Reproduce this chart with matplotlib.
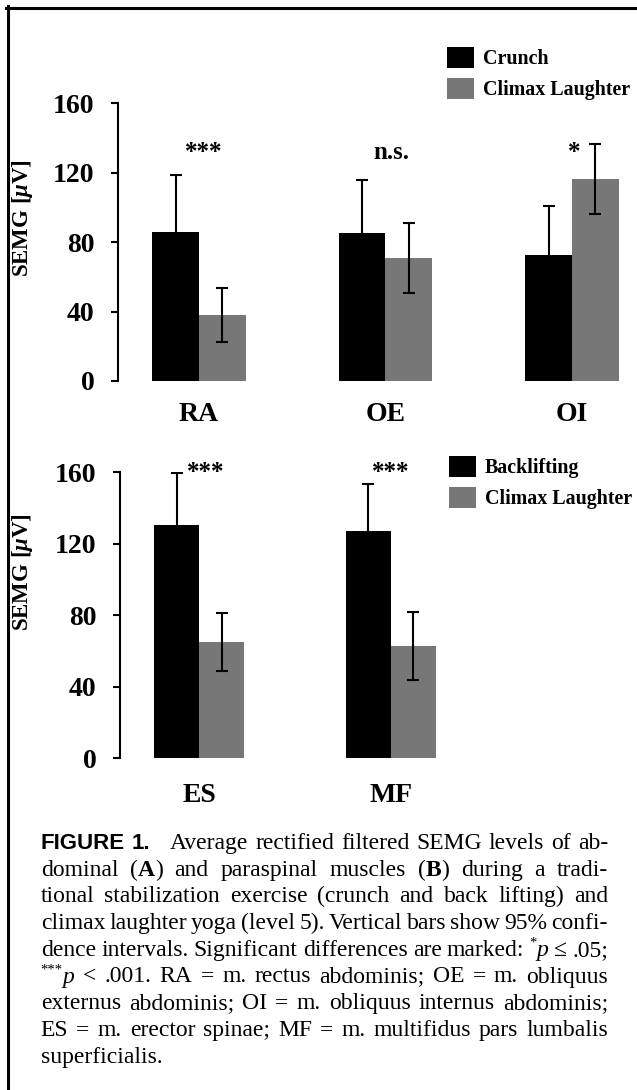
import re

import numpy as np
import matplotlib
matplotlib.use('Agg')
import matplotlib.pyplot as plt
import matplotlib.transforms as mtransforms
from matplotlib.lines import Line2D

plt.rcParams['font.family'] = ['Liberation Serif', 'DejaVu Serif']
plt.rcParams['mathtext.fontset'] = 'custom'
plt.rcParams['mathtext.rm'] = 'Liberation Serif:bold'
plt.rcParams['mathtext.it'] = 'Liberation Serif:italic:bold'

# panel A: abdominal muscles
muscles_a = ['RA', 'OE', 'OI']
crunch = [86.0, 85.5, 72.5]
crunch_ci = [32.7, 30.1, 28.6]
laugh_a = [38.2, 71.0, 116.4]
laugh_a_ci = [15.5, 20.2, 20.2]
sig_a = ['***', 'n.s.', '*']

# panel B: paraspinal muscles
muscles_b = ['ES', 'MF']
backlift = [130.4, 127.0]
backlift_ci = [29.3, 26.7]
laugh_b = [65.2, 62.8]
laugh_b_ci = [16.3, 18.9]
sig_b = ['***', '***']

yticks = [0, 40, 80, 120, 160]

caption = [
    "{f:FIGURE} {f:1.} _ Average rectified filtered SEMG levels of ab-",
    "dominal ({b:A}) and paraspinal muscles ({b:B}) during a tradi-",
    "tional stabilization exercise (crunch and back lifting) and",
    "climax laughter yoga (level 5). Vertical bars show 95% confi-",
    "dence intervals. Significant differences are marked: {s:*}{i:p} \u2264 .05;",
    "{s:***}{i:p} < .001. RA = m. rectus abdominis; OE = m. obliquus",
    "externus abdominis; OI = m. obliquus internus abdominis;",
    "ES = m. erector spinae; MF = m. multifidus pars lumbalis",
    "superficialis.",
]

W, H = 637, 1090
BLACK = '#000000'
GREY = '#777777'

fig = plt.figure(figsize=(W / 100, H / 100), dpi=100)

err_kw = dict(ecolor='black', elinewidth=1.5, capsize=4.3, capthick=1.5)


def draw_panel(ax, names, s1, e1, s2, e2, sig, sig_dx, sig_y, width, labels, leg_xy, xlim, xpad):
    x = np.arange(len(names))
    b1 = ax.bar(x - width / 2, s1, width, color=BLACK, yerr=e1, error_kw=err_kw, label=labels[0])
    b2 = ax.bar(x + width / 2, s2, width, color=GREY, yerr=e2, error_kw=err_kw, label=labels[1])
    for i, s in enumerate(sig):
        ax.text(x[i] + sig_dx[i], sig_y, s, ha='center', va='baseline',
                fontsize=18, fontweight='bold')
    ax.set_xlim(*xlim)
    ax.set_ylim(0, 160)
    ax.set_yticks(yticks)
    ax.set_xticks(x)
    ax.set_xticklabels(names, fontsize=20, fontweight='bold')
    for lbl in ax.get_yticklabels():
        lbl.set_fontsize(20)
        lbl.set_fontweight('bold')
    for side in ['top', 'right', 'bottom']:
        ax.spines[side].set_visible(False)
    ax.spines['left'].set_linewidth(1.5)
    ax.tick_params(axis='y', direction='out', length=5, width=1.5, pad=12)
    ax.tick_params(axis='x', length=0, pad=xpad)
    ax.legend(handles=[b1, b2], loc='upper left', bbox_to_anchor=leg_xy,
              bbox_transform=fig.transFigure, frameon=False,
              prop=dict(weight='bold', size=14.4), handlelength=1.35, handleheight=1.25,
              handletextpad=0.45, labelspacing=0.42, borderpad=0, borderaxespad=0)


ax_a = fig.add_axes([118 / W, 1 - 381 / H, 512 / W, 277.7 / H])
draw_panel(ax_a, muscles_a, crunch, crunch_ci, laugh_a, laugh_a_ci, sig_a,
           [0.024, 0.03, 0.013], 128, 0.25, ['Crunch', 'Climax Laughter'],
           (447 / W, 1 - 47 / H), (-0.434, 2.311), 15)
ax_a.set_ylabel(r'SEMG [$\mu$V]', fontsize=16.5, fontweight='bold')
ax_a.yaxis.set_label_coords(-0.162, 0.587)

ax_b = fig.add_axes([120 / W, 1 - 758.3 / H, 510 / W, 286 / H])
draw_panel(ax_b, muscles_b, backlift, backlift_ci, laugh_b, laugh_b_ci, sig_b,
           [0.037, 0.003], 156, 0.235, ['Backlifting', 'Climax Laughter'],
           (449 / W, 1 - 456 / H), (-0.4125, 2.25), 18)
ax_b.set_ylabel(r'SEMG [$\mu$V]', fontsize=16.5, fontweight='bold')
ax_b.yaxis.set_label_coords(-0.166, 0.651)

# frame of the figure box (top and left edges only visible)
fig.add_artist(Line2D([6 / W, 1], [1 - 7.5 / H] * 2, transform=fig.transFigure, color='black', lw=2.2))
fig.add_artist(Line2D([7.5 / W] * 2, [0, 1 - 6 / H], transform=fig.transFigure, color='black', lw=2.2))

# justified caption
renderer = fig.canvas.get_renderer()
ident = mtransforms.IdentityTransform()
X0, X1 = 40.7, 608.0


def styles(sz):
    return {
        'r': dict(family='Liberation Serif', size=sz),
        'b': dict(family='Liberation Serif', size=sz, weight='bold'),
        'i': dict(family='Liberation Serif', size=sz, style='italic'),
        's': dict(family='Liberation Serif', size=sz * 0.62),
        'f': dict(family='Liberation Sans', size=16, weight='bold'),
    }


def parse(tok):
    if tok == '_':
        return []
    runs, pos = [], 0
    for m in re.finditer(r'\{(\w):([^}]*)\}', tok):
        if m.start() > pos:
            runs.append((tok[pos:m.start()], 'r'))
        runs.append((m.group(2), m.group(1)))
        pos = m.end()
    if pos < len(tok):
        runs.append((tok[pos:], 'r'))
    return runs


def measure(s, props):
    t = fig.text(0, 0, s, transform=ident, **props)
    w = t.get_window_extent(renderer).width
    t.remove()
    return w


def token_width(runs, st):
    if not runs:
        return 6.0
    return sum(measure(s, st[k]) for s, k in runs)


size = 18.0
for size in np.arange(18.0, 11.9, -0.25):
    st = styles(size)
    ok = True
    for line in caption[:-1]:
        toks = [parse(t) for t in line.split(' ')]
        tot = sum(token_width(r, st) for r in toks)
        gap = (X1 - X0 - tot) / (len(toks) - 1)
        if gap < 0.16 * size * 100 / 72:
            ok = False
            break
    if ok:
        break

st = styles(size)
space_w = measure('a a', st['r']) - measure('aa', st['r'])
for li, line in enumerate(caption):
    y = H - (849 + 26.7 * li)
    toks = [parse(t) for t in line.split(' ')]
    widths = [token_width(r, st) for r in toks]
    if li < len(caption) - 1:
        gap = (X1 - X0 - sum(widths)) / (len(toks) - 1)
    else:
        gap = space_w
    x = X0
    for runs, w in zip(toks, widths):
        cx = x
        for s, k in runs:
            yy = y + (size * 100 / 72 * 0.38 if k == 's' else 0)
            fig.text(cx, yy, s, transform=ident, va='baseline', ha='left', **st[k])
            cx += measure(s, st[k])
        x += w + gap

fig.savefig('out.png', dpi=100)
